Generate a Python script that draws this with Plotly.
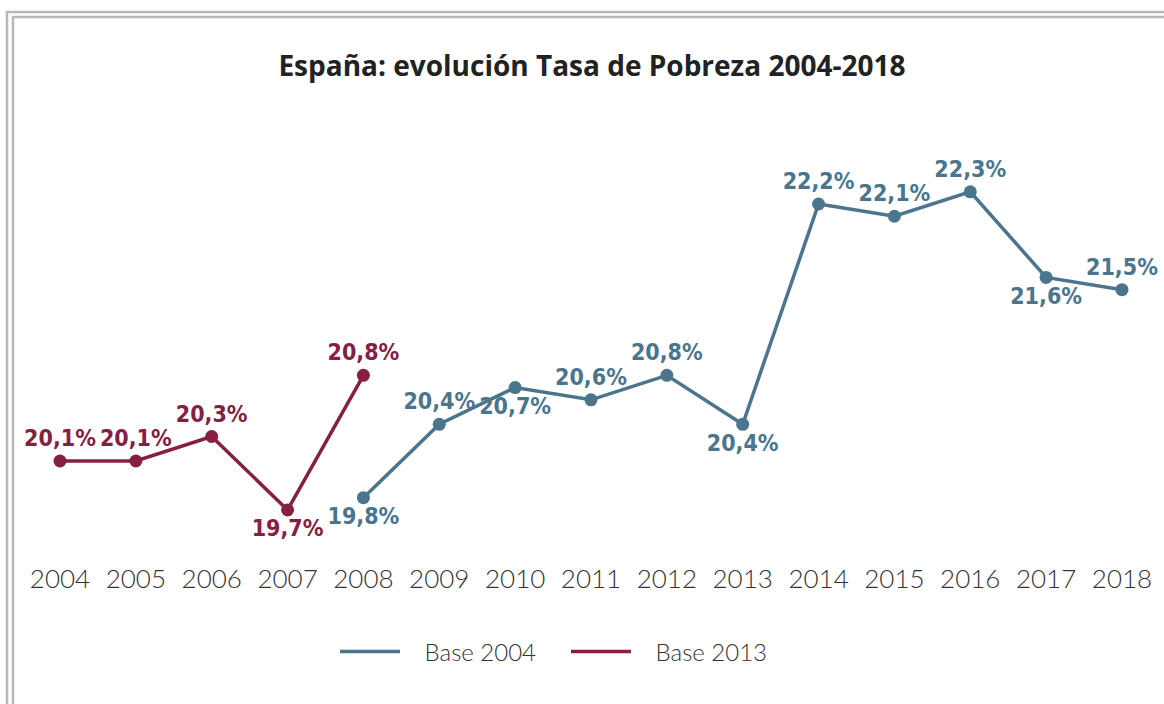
import plotly.graph_objects as go

# ---- data ----
years_base2013 = [2004, 2005, 2006, 2007, 2008]
values_base2013 = [20.1, 20.1, 20.3, 19.7, 20.8]

years_base2004 = [2008, 2009, 2010, 2011, 2012, 2013, 2014, 2015, 2016, 2017, 2018]
values_base2004 = [19.8, 20.4, 20.7, 20.6, 20.8, 20.4, 22.2, 22.1, 22.3, 21.6, 21.5]

tick_years = list(range(2004, 2019))
title_text = "España: evolución Tasa de Pobreza 2004-2018"

# ---- styling ----
BLUE = "#4a758c"
RED = "#862043"
LABEL_FONT = "Liberation Sans Narrow, DejaVu Sans Condensed, sans-serif"


def fmt(v):
    return f"{v:.1f}".replace(".", ",") + "%"


pos_base2013 = ["top center", "top center", "top center", "bottom center", "top center"]
pos_base2004 = ["bottom center", "top center", "bottom center", "top center", "top center",
                "bottom center", "top center", "top center", "top center", "bottom center", "top center"]

fig = go.Figure()
for name, xs, ys, color, pos in [
    ("Base 2004", years_base2004, values_base2004, BLUE, pos_base2004),
    ("Base 2013", years_base2013, values_base2013, RED, pos_base2013),
]:
    fig.add_trace(go.Scatter(
        x=xs, y=ys, name=name, showlegend=False,
        mode="lines+markers+text",
        line=dict(color=color, width=3.5),
        marker=dict(color=color, size=13),
        text=[fmt(v) for v in ys], textposition=pos,
        textfont=dict(family=LABEL_FONT, size=23, color=color, weight=700),
        cliponaxis=False, hoverinfo="skip",
    ))
    # legend-only entry drawn as a plain line
    fig.add_trace(go.Scatter(
        x=[None], y=[None], name="\u00a0\u00a0\u00a0" + name, mode="lines",
        line=dict(color=color, width=3.5), showlegend=True,
    ))

W, H = 1164, 704
T, B = 100, 150
plot_h = H - T - B


def py(p):
    return (H - B - p) / plot_h


def px(p):
    return p / W


border = dict(color="#b8b8b8", width=2.5)
shapes = [
    dict(type="line", xref="paper", yref="paper", x0=px(6), x1=px(1170), y0=py(12), y1=py(12), line=border),
    dict(type="line", xref="paper", yref="paper", x0=px(7), x1=px(7), y0=py(11), y1=py(710), line=border),
    dict(type="line", xref="paper", yref="paper", x0=px(12), x1=px(1170), y0=py(17), y1=py(17), line=border),
    dict(type="line", xref="paper", yref="paper", x0=px(13), x1=px(13), y0=py(16), y1=py(710), line=border),
]

fig.update_layout(
    width=W, height=H,
    margin=dict(l=0, r=0, t=T, b=B),
    paper_bgcolor="white", plot_bgcolor="white",
    title=dict(text=title_text, x=592 / W, xanchor="center", y=1 - 66 / H, yanchor="middle",
               yref="container",
               font=dict(family="Open Sans, Lato, sans-serif", size=28, color="#222222", weight=700)),
    xaxis=dict(range=[2003.209, 2018.554], tickmode="array", tickvals=tick_years,
               ticktext=[str(y) for y in tick_years], showgrid=False, zeroline=False,
               showline=False, ticks="", ticklabelstandoff=7,
               tickfont=dict(family="Lato, sans-serif", size=26, color="#333333", weight=300)),
    yaxis=dict(range=[19.34, 23.05], visible=False),
    legend=dict(orientation="h", x=px(335), xanchor="left", y=py(652), yanchor="middle",
                font=dict(family="Lato, sans-serif", size=24, color="#333333", weight=300),
                entrywidth=156, entrywidthmode="pixels", itemwidth=60, traceorder="normal"),
    shapes=shapes,
    showlegend=True,
)

fig.write_html("out.html", config={"displayModeBar": False},
               post_script="document.body.style.margin='0';document.body.style.overflow='hidden';")
